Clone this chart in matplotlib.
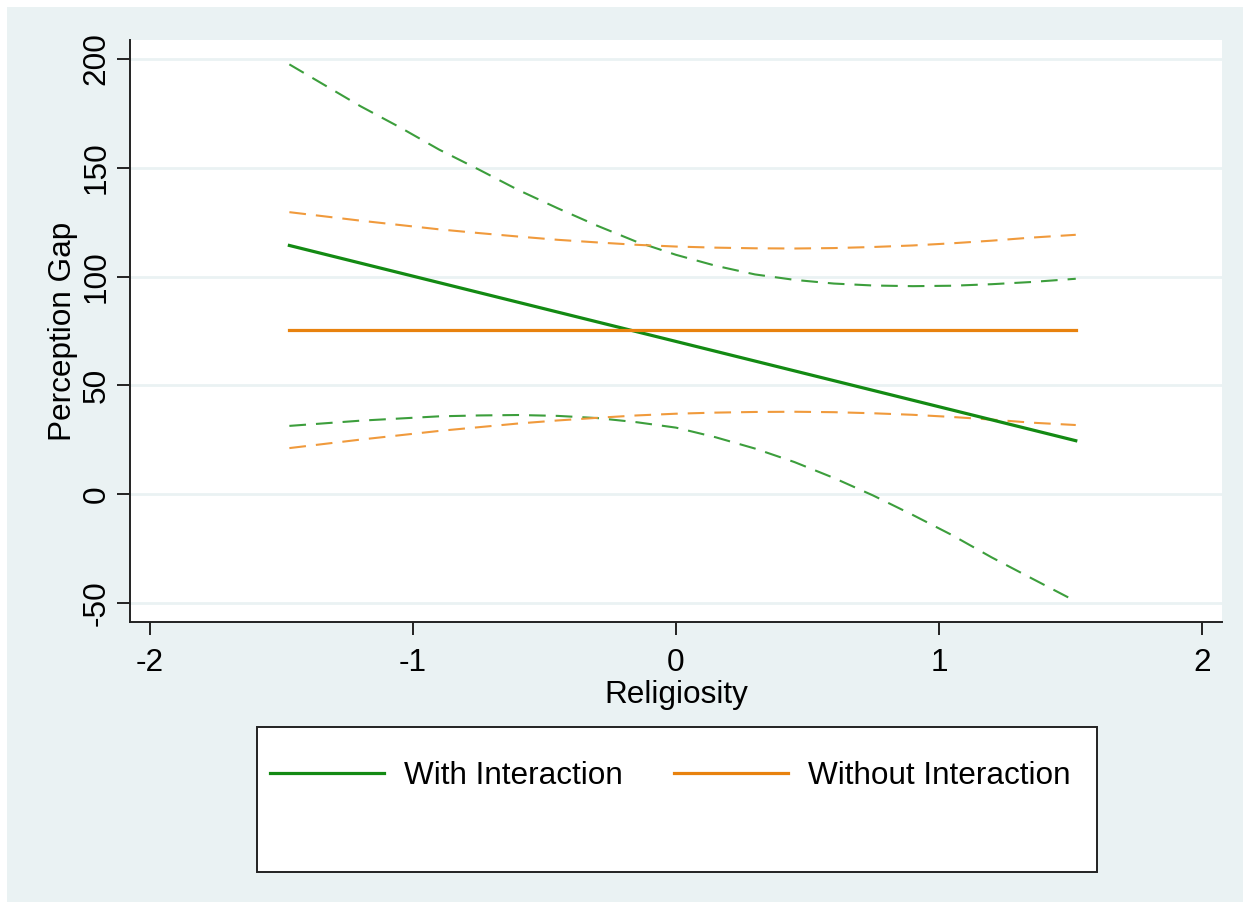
import matplotlib
matplotlib.use("Agg")
import matplotlib.pyplot as plt
from matplotlib.patches import Rectangle

# Predicted perception gap over religiosity, with 95% confidence bounds
religiosity = [-1.47, -1.2, -1.05, -0.9, -0.75, -0.6, -0.45, -0.3, -0.15, 0.0,
               0.15, 0.3, 0.45, 0.6, 0.75, 0.9, 1.05, 1.2, 1.35, 1.52]

with_fit = [114.3, 106.2, 101.7, 97.2, 92.7, 88.2, 83.7, 79.2, 74.7, 70.2,
            65.7, 61.2, 56.7, 52.2, 47.7, 43.2, 38.7, 34.2, 29.7, 24.6]
with_upper = [197.5, 178.3, 168.6, 158.3, 149.2, 139.8, 131.4, 123.4, 116.0, 110.0,
              105.0, 101.0, 98.5, 96.8, 95.9, 95.6, 95.8, 96.5, 97.5, 99.0]
with_lower = [31.4, 33.8, 34.8, 35.8, 36.2, 36.4, 36.0, 35.0, 33.1, 30.6,
              26.2, 21.0, 14.8, 7.5, -0.6, -9.5, -18.8, -29.0, -38.5, -49.2]

without_fit = [75.5, 75.5, 75.5, 75.5, 75.5, 75.5, 75.5, 75.5, 75.5, 75.5,
               75.5, 75.5, 75.5, 75.5, 75.5, 75.5, 75.5, 75.5, 75.5, 75.5]
without_upper = [129.6, 125.7, 123.7, 121.7, 120.0, 118.4, 116.9, 115.7, 114.6, 113.8,
                 113.3, 113.0, 112.9, 113.1, 113.6, 114.3, 115.3, 116.5, 117.9, 119.2]
without_lower = [21.2, 25.1, 27.1, 29.1, 30.8, 32.5, 33.9, 35.1, 36.2, 37.0,
                 37.5, 37.8, 37.9, 37.7, 37.2, 36.5, 35.5, 34.3, 32.9, 31.8]

x_ticks = [-2, -1, 0, 1, 2]
y_ticks = [-50, 0, 50, 100, 150, 200]

GREEN = "#138a13"
GREEN_CI = "#3c9e3c"
ORANGE = "#e8820e"
ORANGE_CI = "#f09a3c"
BG = "#eaf2f3"
INK = "#222222"
FS = 22.7

plt.rcParams["font.family"] = ["Liberation Sans", "DejaVu Sans"]
plt.rcParams["axes.unicode_minus"] = False

W, H = 1250, 909
fig = plt.figure(figsize=(W / 100, H / 100), dpi=100, facecolor="white")
fig.add_artist(Rectangle((7 / W, 7 / H), 1 - 14 / W, 1 - 14 / H,
                         transform=fig.transFigure, facecolor=BG,
                         edgecolor="none", zorder=-10))

ax = fig.add_axes([130 / W, 1 - 622 / H, (1222 - 130) / W, (622 - 40) / H])
ax.set_facecolor("white")

dash = dict(linewidth=1.5, dashes=(8.0, 4.8))
ax.plot(religiosity, with_upper, color=GREEN_CI, **dash)
ax.plot(religiosity, with_lower, color=GREEN_CI, **dash)
ax.plot(religiosity, without_upper, color=ORANGE_CI, **dash)
ax.plot(religiosity, without_lower, color=ORANGE_CI, **dash)
line_with, = ax.plot(religiosity, with_fit, color=GREEN, linewidth=2.3,
                     label="With Interaction")
line_without, = ax.plot(religiosity, without_fit, color=ORANGE, linewidth=2.3,
                        label="Without Interaction")

ax.set_xlim(-2.076, 2.076)
ax.set_ylim(-58.7, 208.7)
ax.set_xticks(x_ticks)
ax.set_yticks(y_ticks)
ax.set_xticklabels([str(t) for t in x_ticks])
ax.set_yticklabels([str(t) for t in y_ticks], rotation=90, va="center")

ax.yaxis.grid(True, color=BG, linewidth=2.0)
ax.set_axisbelow(True)

for side in ("top", "right"):
    ax.spines[side].set_visible(False)
for side in ("left", "bottom"):
    ax.spines[side].set_color(INK)
    ax.spines[side].set_linewidth(1.4)

ax.tick_params(axis="both", length=9.5, width=1.4, color=INK,
               labelsize=FS, labelcolor="black")
ax.tick_params(axis="x", pad=9)
ax.tick_params(axis="y", pad=4)

ax.set_xlabel("Religiosity", fontsize=FS, labelpad=2)
ax.set_ylabel("Perception Gap", fontsize=FS, labelpad=2.5)

# legend box below the plot region
fig.add_artist(Rectangle((257 / W, 1 - 872 / H), 840 / W, 145 / H,
                         transform=fig.transFigure, facecolor="white",
                         edgecolor=INK, linewidth=1.4, zorder=1))
fig.legend(handles=[line_with, line_without], loc="center left",
           bbox_to_anchor=(270 / W, 1 - 776 / H), ncol=2, frameon=False,
           fontsize=FS, handlelength=3.62, handletextpad=0.64,
           columnspacing=1.62, borderpad=0, borderaxespad=0)

fig.savefig("out.png", dpi=100, facecolor=fig.get_facecolor())
